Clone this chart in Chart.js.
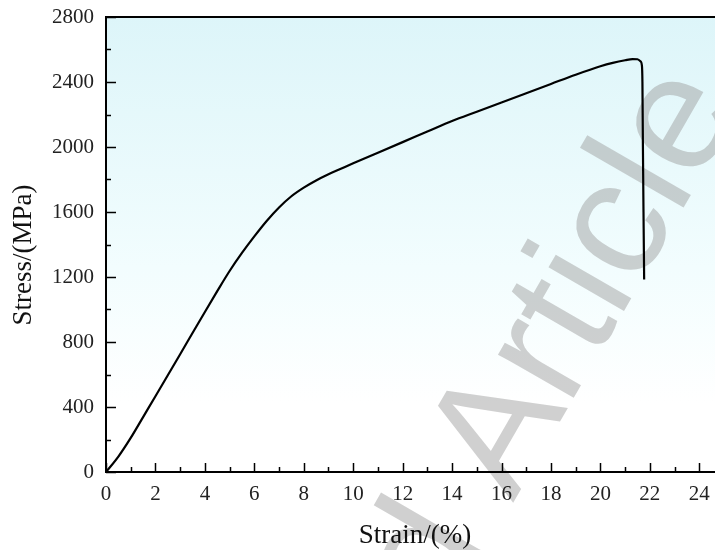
<!DOCTYPE html>
<html>
<head>
<meta charset="utf-8">
<script src="https://cdn.jsdelivr.net/npm/chart.js@4.4.0/dist/chart.umd.min.js"></script>
<style>
  html, body { margin: 0; padding: 0; overflow: hidden; background: #fff; }
  canvas { display: block; }
</style>
</head>
<body>
<canvas id="c" width="724" height="550"></canvas>
<script>
// tensile curve
const strain = [0, 0.5, 1, 1.5, 2, 2.5, 3, 3.5, 4, 4.5, 5, 5.5, 6, 6.5, 7, 7.5, 8, 8.5, 9, 9.5, 10,
  11, 12, 13, 14, 15, 16, 17, 18, 19, 20, 20.5, 21, 21.3, 21.5, 21.62, 21.68, 21.7, 21.72, 21.75, 21.77];
const stress = [0, 95, 210, 338, 466, 595, 725, 855, 985, 1113, 1237, 1348, 1450, 1545, 1628, 1697, 1750, 1794, 1832, 1866, 1900,
  1965, 2030, 2095, 2160, 2217, 2274, 2331, 2388, 2445, 2497, 2518, 2534, 2541, 2540, 2528, 2500, 2400, 2000, 1500, 1185];

const xTicks = [0, 2, 4, 6, 8, 10, 12, 14, 16, 18, 20, 22, 24];
const xMinor = [1, 3, 5, 7, 9, 11, 13, 15, 17, 19, 21, 23];
const yTicks = [0, 400, 800, 1200, 1600, 2000, 2400, 2800];
const yMinor = [200, 600, 1000, 1400, 1800, 2200, 2600];

const xTitle = 'Strain/(%)';
const yTitle = 'Stress/(MPa)';
const watermarkA = 'Accepted ';
const watermarkB = 'Article';

const serif = '"Liberation Serif", "Times New Roman", serif';

const decor = {
  id: 'decor',
  beforeDraw(chart) {
    const { ctx, chartArea: a } = chart;
    ctx.save();
    const g = ctx.createLinearGradient(0, a.top, 0, a.bottom);
    g.addColorStop(0, '#ddf5f9');
    g.addColorStop(0.55, '#f2fdfe');
    g.addColorStop(0.85, '#ffffff');
    g.addColorStop(1, '#ffffff');
    ctx.fillStyle = g;
    ctx.fillRect(a.left, a.top, a.right - a.left, a.bottom - a.top);

    // watermark
    ctx.translate(513, 503);
    ctx.rotate(-60 * Math.PI / 180);
    ctx.font = '165px "Liberation Sans", Arial, sans-serif';
    ctx.fillStyle = 'rgba(150,150,150,0.45)';
    ctx.textBaseline = 'alphabetic';
    ctx.textAlign = 'left';
    ctx.fillText(watermarkB, 0, 0);
    ctx.textAlign = 'right';
    ctx.fillText(watermarkA, 0, 0);
    ctx.restore();
  },
  afterDraw(chart) {
    const { ctx, chartArea: a, scales: { x, y } } = chart;
    ctx.save();
    ctx.strokeStyle = '#000';
    ctx.lineWidth = 2;
    ctx.beginPath();
    ctx.moveTo(a.left - 1, a.top);
    ctx.lineTo(a.right, a.top);
    ctx.stroke();

    ctx.lineWidth = 1.5;
    ctx.beginPath();
    xTicks.forEach(v => { const p = Math.round(x.getPixelForValue(v)) + 0.5; ctx.moveTo(p, a.bottom); ctx.lineTo(p, a.bottom - 9); });
    xMinor.forEach(v => { const p = Math.round(x.getPixelForValue(v)) + 0.5; ctx.moveTo(p, a.bottom); ctx.lineTo(p, a.bottom - 5); });
    yTicks.forEach(v => { const p = Math.round(y.getPixelForValue(v)) + 0.5; ctx.moveTo(a.left, p); ctx.lineTo(a.left + 10, p); });
    yMinor.forEach(v => { const p = Math.round(y.getPixelForValue(v)) + 0.5; ctx.moveTo(a.left, p); ctx.lineTo(a.left + 5, p); });
    ctx.stroke();

    ctx.fillStyle = '#111';
    ctx.font = '27px ' + serif;
    ctx.textAlign = 'center';
    ctx.textBaseline = 'alphabetic';
    ctx.fillText(xTitle, (a.left + a.right) / 2, 543);
    ctx.translate(31, 255);
    ctx.rotate(-Math.PI / 2);
    ctx.fillText(yTitle, 0, 0);
    ctx.restore();
  }
};

new Chart(document.getElementById('c'), {
  type: 'line',
  data: {
    datasets: [{
      data: strain.map((s, i) => ({ x: s, y: stress[i] })),
      borderColor: '#000',
      borderWidth: 2.2,
      pointRadius: 0,
      fill: false,
      cubicInterpolationMode: 'monotone'
    }]
  },
  options: {
    responsive: false,
    animation: false,
    layout: { padding: { top: 17, right: 0, left: 0, bottom: 0 } },
    plugins: { legend: { display: false }, tooltip: { enabled: false } },
    scales: {
      x: {
        type: 'linear',
        min: 0,
        max: 25,
        afterBuildTicks: s => { s.ticks = xTicks.map(v => ({ value: v })); },
        afterFit: s => { s.height = 78; s.paddingLeft = 0; s.paddingRight = 0; },
        grid: { display: false, drawTicks: false },
        border: { display: true, color: '#000', width: 2 },
        ticks: { padding: 10, color: '#222', font: { family: serif, size: 21 }, maxRotation: 0, callback: v => String(v) }
      },
      y: {
        min: 0,
        max: 2800,
        afterBuildTicks: s => { s.ticks = yTicks.map(v => ({ value: v })); },
        afterFit: s => { s.width = 106; s.paddingTop = 0; s.paddingBottom = 0; },
        grid: { display: false, drawTicks: false },
        border: { display: true, color: '#000', width: 2 },
        ticks: { padding: 12, color: '#222', font: { family: serif, size: 21 }, callback: v => String(v) }
      }
    }
  },
  plugins: [decor]
});
</script>
</body>
</html>
